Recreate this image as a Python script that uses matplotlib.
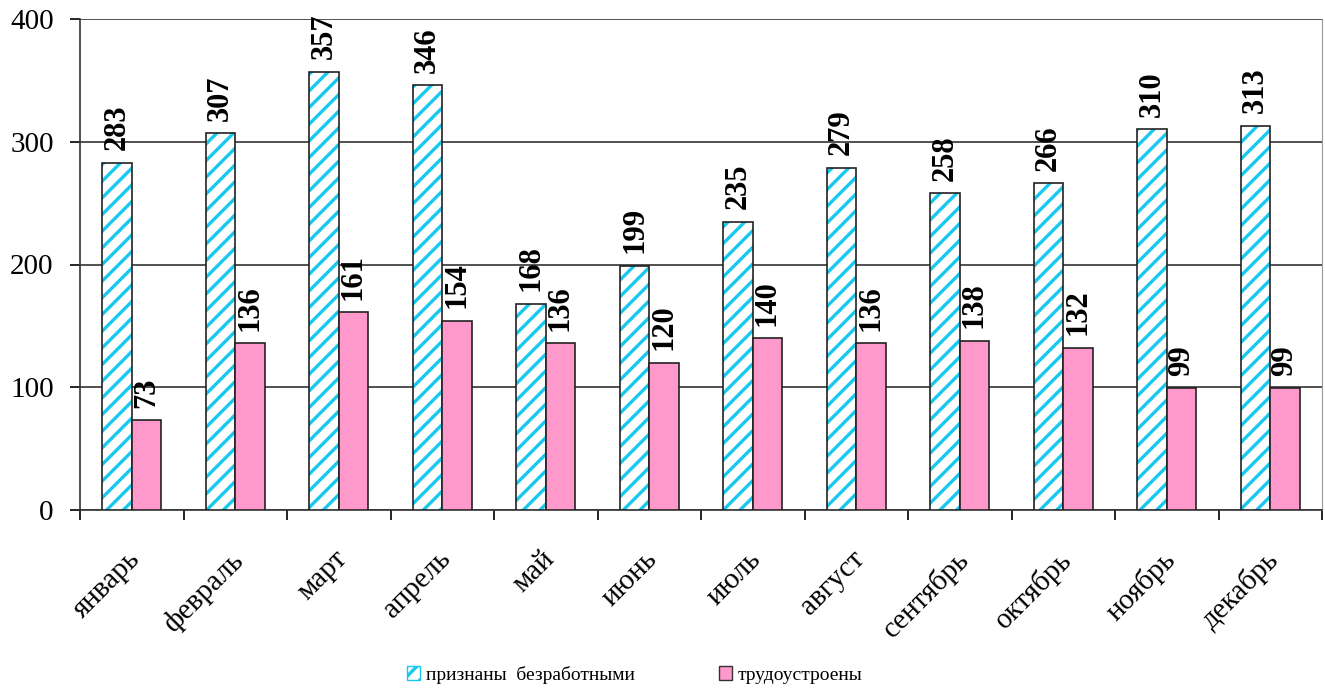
import matplotlib.pyplot as plt
from matplotlib.patches import Patch
from matplotlib.transforms import ScaledTranslation
import numpy as np

# Data
months = ['январь', 'февраль', 'март', 'апрель', 'май', 'июнь',
          'июль', 'август', 'сентябрь', 'октябрь', 'ноябрь', 'декабрь']
unemployed = [283, 307, 357, 346, 168, 199, 235, 279, 258, 266, 310, 313]
employed = [73, 136, 161, 154, 136, 120, 140, 136, 138, 132, 99, 99]

plt.rcParams['font.family'] = ['Liberation Serif', 'DejaVu Serif']
plt.rcParams['hatch.linewidth'] = 2.4

cyan = '#19C8EE'
pink = '#FF99CC'

fig = plt.figure(figsize=(13.25, 6.9), dpi=100)
ax = fig.add_axes([80 / 1325, 180 / 690, 1242 / 1325, 491 / 690])

x = np.arange(len(months))
w = 0.285

# Hatched bars: stripes first, then black outline on top
ax.bar(x - w / 2, unemployed, w, facecolor='white', edgecolor=cyan, hatch='//', linewidth=0, zorder=3)
ax.bar(x - w / 2, unemployed, w, facecolor='none', edgecolor='#222222', linewidth=1.2, zorder=4)
ax.bar(x + w / 2, employed, w, facecolor=pink, edgecolor='#222222', linewidth=1.2, zorder=4)

for xi, v in zip(x, unemployed):
    ax.annotate(str(v), (xi - w / 2, v), xytext=(0, 9), textcoords='offset points',
                rotation=90, ha='center', va='bottom', fontsize=22, fontweight='bold')
for xi, v in zip(x, employed):
    ax.annotate(str(v), (xi + w / 2, v), xytext=(0, 9), textcoords='offset points',
                rotation=90, ha='center', va='bottom', fontsize=22, fontweight='bold')

ax.set_xlim(-0.5, len(months) - 0.5)
ax.set_ylim(0, 400)
ax.set_yticks([0, 100, 200, 300, 400])
ax.tick_params(axis='y', labelsize=21, length=7, width=1.2, pad=12)
ax.yaxis.grid(True, color='#333333', linewidth=1.2, zorder=0)
ax.set_axisbelow(True)

ax.set_xticks(x)
ax.set_xticklabels(months, rotation=45, ha='right', rotation_mode='anchor', fontsize=21)
ax.tick_params(axis='x', length=0, pad=26)
shift = ScaledTranslation(-5 / 100, 0, fig.dpi_scale_trans)
for lbl in ax.get_xticklabels():
    lbl.set_transform(lbl.get_transform() + shift)
ax.set_xticks(np.arange(-0.5, len(months)), minor=True)
ax.tick_params(axis='x', which='minor', length=7, width=1.2)

for s in ['left', 'bottom']:
    ax.spines[s].set_color('#333333')
    ax.spines[s].set_linewidth(1.2)
ax.spines['top'].set_visible(False)
ax.spines['right'].set_color('#999999')

handles = [Patch(facecolor='white', edgecolor=cyan, hatch='//', label='признаны  безработными'),
           Patch(facecolor=pink, edgecolor='#333333', label='трудоустроены')]
fig.legend(handles=handles, loc='center', bbox_to_anchor=(0.479, 1 - 675 / 690), ncol=2,
           frameon=False, fontsize=14, handlelength=0.7, handleheight=0.7,
           handletextpad=0.3, columnspacing=4.3)

fig.savefig('out.png')
